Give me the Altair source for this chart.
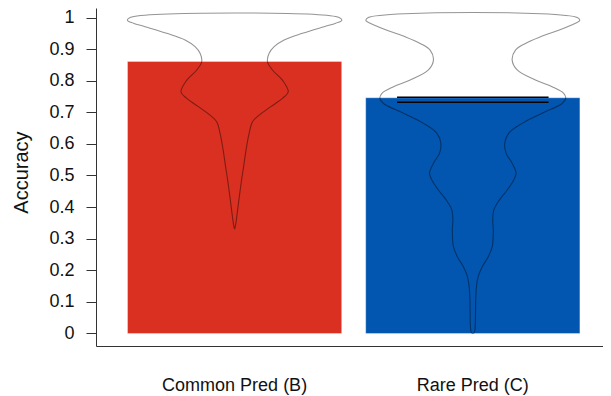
import altair as alt
import pandas as pd

# ---------------- data ----------------
categories = ["Common Pred (B)", "Rare Pred (C)"]
bar_values = [0.861, 0.746]
bar_colors = ["#D93021", "#0256B0"]

# error-bar caps (only visible for Rare Pred)
err_category = ["Rare Pred (C)"]
err_low = [0.732]
err_high = [0.748]

y_ticks = [0, 0.1, 0.2, 0.3, 0.4, 0.5, 0.6, 0.7, 0.8, 0.9, 1]

# violin outlines: accuracy level and relative density width (0..1)
common_acc = [1.000, 0.991, 0.982, 0.971, 0.950, 0.929, 0.908, 0.887, 0.860, 0.834,
              0.802, 0.765, 0.744, 0.718, 0.691, 0.670, 0.634, 0.581, 0.528, 0.486,
              0.433, 0.380, 0.343, 0.330]
common_width = [0.975, 1.000, 0.944, 0.835, 0.633, 0.462, 0.369, 0.322, 0.307, 0.353,
                0.446, 0.500, 0.446, 0.338, 0.229, 0.167, 0.136, 0.107, 0.084, 0.065,
                0.044, 0.024, 0.009, 0.000]

rare_acc = [1.000, 0.990, 0.982, 0.960, 0.939, 0.918, 0.897, 0.866, 0.834, 0.802,
            0.781, 0.760, 0.744, 0.728, 0.697, 0.665, 0.634, 0.602, 0.570, 0.539,
            0.507, 0.486, 0.454, 0.422, 0.391, 0.359, 0.327, 0.275, 0.243, 0.211,
            0.180, 0.148, 0.116, 0.064, 0.022, 0.003, 0.000]
rare_width = [0.975, 0.997, 0.957, 0.801, 0.631, 0.491, 0.398, 0.367, 0.414, 0.584,
              0.740, 0.848, 0.867, 0.833, 0.647, 0.460, 0.336, 0.298, 0.311, 0.367,
              0.404, 0.382, 0.321, 0.247, 0.196, 0.186, 0.191, 0.181, 0.144, 0.088,
              0.050, 0.034, 0.028, 0.025, 0.022, 0.014, 0.000]

# ---------------- layout constants ----------------
W, H = 507, 338
PAD_INNER = 0.1008
PAD_OUTER = 0.1146
ALIGN = 0.577
HALF = 0.45        # max violin half-width in band-step units
CAP = 0.318        # error cap half-width in band-step units
Y_DOMAIN = [-0.0396, 1.0301]
FONT = "Liberation Sans"

n = len(categories)
step = W / (n - PAD_INNER + 2 * PAD_OUTER)
first = (W - step * (n - PAD_INNER)) * ALIGN + step * (1 - PAD_INNER) / 2
X_DOMAIN = [-first / step, (W - first) / step]

bars_df = pd.DataFrame({"category": categories, "value": bar_values})

rows = []
for i, (acc, wid) in enumerate([(common_acc, common_width), (rare_acc, rare_width)]):
    pts = sorted(zip(acc, wid))
    seq = 0
    for a, w in pts:                      # left side, bottom to top
        rows.append({"category": categories[i], "value": a, "xpos": i - HALF * w, "seq": seq})
        seq += 1
    for a, w in reversed(pts):            # right side, top to bottom
        rows.append({"category": categories[i], "value": a, "xpos": i + HALF * w, "seq": seq})
        seq += 1
violin_df = pd.DataFrame(rows)

cap_rows = []
for c, lo, hi in zip(err_category, err_low, err_high):
    i = categories.index(c)
    for v in (lo, hi):
        cap_rows.append({"category": c, "value": v, "x1": i - CAP, "x2": i + CAP})
cap_df = pd.DataFrame(cap_rows)

y_scale = alt.Scale(domain=Y_DOMAIN, nice=False, zero=False)
xq_scale = alt.Scale(domain=X_DOMAIN, nice=False, zero=False)
y_axis = alt.Axis(title="Accuracy", values=y_ticks, format="~g", grid=False,
                  labelFont=FONT, labelFontSize=18, labelColor="#111",
                  labelPadding=12, tickSize=10, tickColor="#333",
                  domainColor="#333", domainWidth=1,
                  titleFont=FONT, titleFontSize=20, titleFontWeight="normal",
                  titleColor="#111", titleAngle=270, titleBaseline="alphabetic",
                  titleAlign="center", titleX=-69, titleY=H / 2 - 5)

bars = alt.Chart(bars_df).mark_bar(stroke="white", strokeOpacity=0.35, strokeWidth=1).encode(
    x=alt.X("category:N", sort=categories,
            scale=alt.Scale(paddingInner=PAD_INNER, paddingOuter=PAD_OUTER, align=ALIGN),
            axis=alt.Axis(title=None, labelAngle=0, ticks=False, tickSize=0,
                          labelFont=FONT, labelFontSize=18, labelColor="#111",
                          labelBaseline="alphabetic", labelPadding=44,
                          domainColor="#333", domainWidth=1)),
    y=alt.Y("value:Q", scale=y_scale, axis=y_axis),
    y2=alt.datum(0),
    color=alt.Color("category:N", scale=alt.Scale(domain=categories, range=bar_colors),
                    legend=None),
)

caps = alt.Chart(cap_df).mark_rule(color="black", strokeWidth=1.5).encode(
    x=alt.X("x1:Q", scale=xq_scale, axis=None),
    x2="x2:Q",
    y=alt.Y("value:Q", scale=y_scale, axis=y_axis),
)

violins = alt.Chart(violin_df).mark_line(
    interpolate="catmull-rom", color="black", strokeOpacity=0.42, strokeWidth=1.1,
).encode(
    y=alt.Y("value:Q", scale=y_scale, axis=y_axis),
    x=alt.X("xpos:Q", scale=xq_scale, axis=None),
    detail="category:N",
    order=alt.Order("seq:Q"),
)

chart = alt.layer(bars, caps, violins).resolve_scale(x="independent").properties(
    width=W, height=H,
    autosize=alt.AutoSizeParams(type="none"),
    padding={"left": 88, "top": 0, "right": 0, "bottom": 50},
).configure_view(stroke=None)

chart.save("out.html", embed_options={"renderer": "svg", "actions": False})
